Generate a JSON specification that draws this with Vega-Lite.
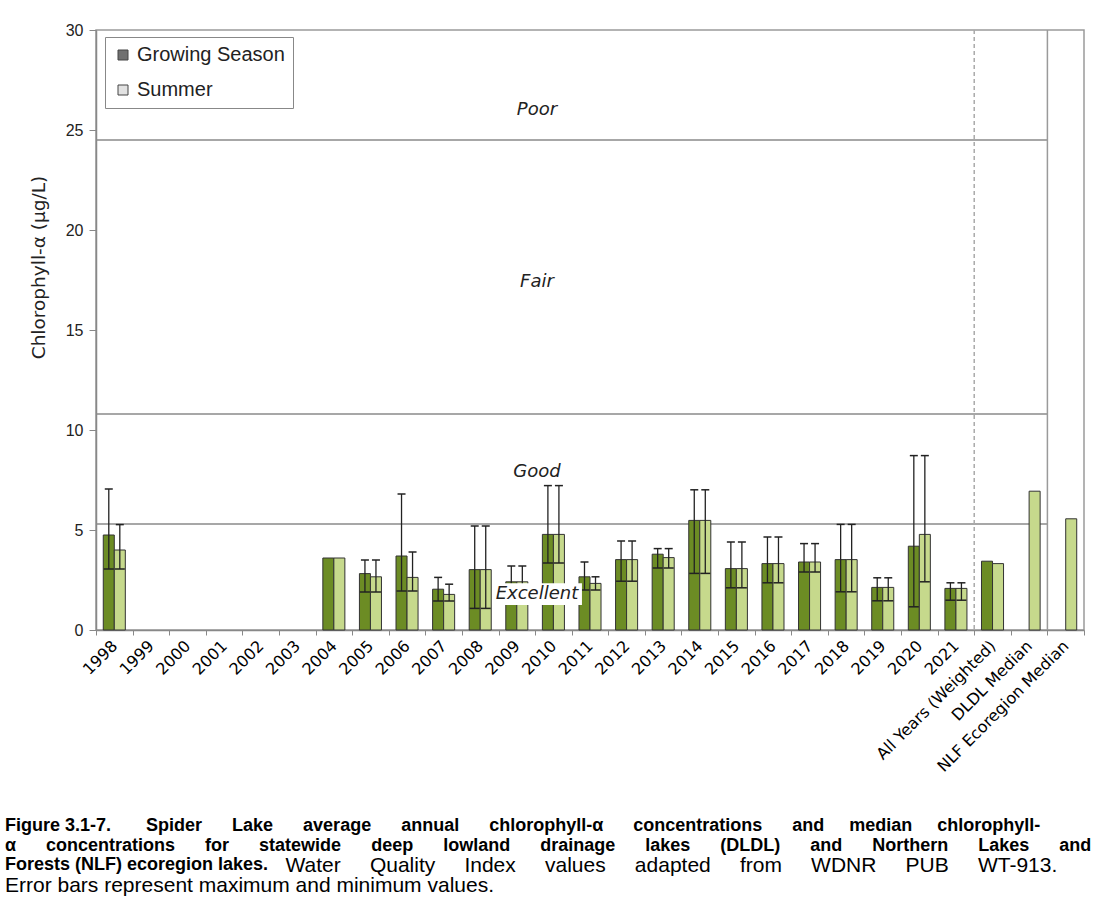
{
  "$schema": "https://vega.github.io/schema/vega-lite/v6.json",
  "width": 988,
  "height": 600,
  "autosize": {"type": "none"},
  "padding": {"left": 96, "top": 30, "right": 20, "bottom": 285},
  "background": "white",
  "config": {
    "font": "Liberation Sans",
    "view": {"stroke": "#9a9a9a", "strokeWidth": 1.5}
  },
  "title": {
    "text": [
      "Figure 3.1-7. \u00a0\u00a0\u00a0\u00a0\u00a0\u00a0Spider \u00a0\u00a0\u00a0\u00a0\u00a0Lake \u00a0\u00a0\u00a0\u00a0\u00a0average \u00a0\u00a0\u00a0\u00a0\u00a0annual \u00a0\u00a0\u00a0\u00a0\u00a0chlorophyll-α \u00a0\u00a0\u00a0\u00a0\u00a0concentrations \u00a0\u00a0\u00a0\u00a0\u00a0and \u00a0\u00a0\u00a0\u00a0median \u00a0\u00a0\u00a0\u00a0chlorophyll-",
      "α \u00a0\u00a0\u00a0\u00a0\u00a0concentrations \u00a0\u00a0\u00a0\u00a0\u00a0for \u00a0\u00a0\u00a0\u00a0\u00a0statewide \u00a0\u00a0\u00a0\u00a0\u00a0deep \u00a0\u00a0\u00a0\u00a0\u00a0lowland \u00a0\u00a0\u00a0\u00a0\u00a0drainage \u00a0\u00a0\u00a0\u00a0\u00a0lakes \u00a0\u00a0\u00a0\u00a0\u00a0(DLDL) \u00a0\u00a0\u00a0\u00a0\u00a0and \u00a0\u00a0\u00a0\u00a0\u00a0Northern \u00a0\u00a0\u00a0\u00a0\u00a0Lakes \u00a0\u00a0\u00a0\u00a0\u00a0and",
      "Forests (NLF) ecoregion lakes."
    ],
    "subtitle": "Error bars represent maximum and minimum values.",
    "orient": "bottom",
    "anchor": "start",
    "frame": "group",
    "dx": -91,
    "offset": -58,
    "font": "Liberation Sans",
    "fontSize": 18,
    "fontWeight": "bold",
    "lineHeight": 19.5,
    "color": "#000000",
    "subtitleFont": "Liberation Sans",
    "subtitleFontSize": 21,
    "subtitleFontWeight": "normal",
    "subtitleLineHeight": 20,
    "subtitleColor": "#000000",
    "subtitlePadding": 1
  },
  "datasets": {
    "bars": [
      {"cat": "1998", "series": "Growing Season", "mean": 4.75, "min": 3.05, "max": 7.05},
      {"cat": "1998", "series": "Summer", "mean": 4.0, "min": 3.05, "max": 5.27},
      {"cat": "2004", "series": "Growing Season", "mean": 3.6, "min": null, "max": null},
      {"cat": "2004", "series": "Summer", "mean": 3.6, "min": null, "max": null},
      {"cat": "2005", "series": "Growing Season", "mean": 2.82, "min": 1.9, "max": 3.5},
      {"cat": "2005", "series": "Summer", "mean": 2.66, "min": 1.9, "max": 3.5},
      {"cat": "2006", "series": "Growing Season", "mean": 3.7, "min": 1.95, "max": 6.8},
      {"cat": "2006", "series": "Summer", "mean": 2.63, "min": 1.95, "max": 3.9},
      {"cat": "2007", "series": "Growing Season", "mean": 2.04, "min": 1.45, "max": 2.63},
      {"cat": "2007", "series": "Summer", "mean": 1.78, "min": 1.45, "max": 2.29},
      {"cat": "2008", "series": "Growing Season", "mean": 3.02, "min": 1.08, "max": 5.2},
      {"cat": "2008", "series": "Summer", "mean": 3.02, "min": 1.08, "max": 5.2},
      {"cat": "2009", "series": "Growing Season", "mean": 2.41, "min": 1.6, "max": 3.2},
      {"cat": "2009", "series": "Summer", "mean": 2.41, "min": 1.6, "max": 3.2},
      {"cat": "2010", "series": "Growing Season", "mean": 4.78, "min": 3.35, "max": 7.22},
      {"cat": "2010", "series": "Summer", "mean": 4.78, "min": 3.35, "max": 7.22},
      {"cat": "2011", "series": "Growing Season", "mean": 2.66, "min": 2.0, "max": 3.4},
      {"cat": "2011", "series": "Summer", "mean": 2.33, "min": 2.0, "max": 2.66},
      {"cat": "2012", "series": "Growing Season", "mean": 3.52, "min": 2.44, "max": 4.45},
      {"cat": "2012", "series": "Summer", "mean": 3.52, "min": 2.44, "max": 4.45},
      {"cat": "2013", "series": "Growing Season", "mean": 3.79, "min": 3.1, "max": 4.07},
      {"cat": "2013", "series": "Summer", "mean": 3.62, "min": 3.1, "max": 4.07},
      {"cat": "2014", "series": "Growing Season", "mean": 5.48, "min": 2.83, "max": 7.01},
      {"cat": "2014", "series": "Summer", "mean": 5.48, "min": 2.83, "max": 7.01},
      {"cat": "2015", "series": "Growing Season", "mean": 3.07, "min": 2.11, "max": 4.4},
      {"cat": "2015", "series": "Summer", "mean": 3.07, "min": 2.11, "max": 4.4},
      {"cat": "2016", "series": "Growing Season", "mean": 3.32, "min": 2.36, "max": 4.65},
      {"cat": "2016", "series": "Summer", "mean": 3.32, "min": 2.36, "max": 4.65},
      {"cat": "2017", "series": "Growing Season", "mean": 3.4, "min": 2.9, "max": 4.32},
      {"cat": "2017", "series": "Summer", "mean": 3.4, "min": 2.9, "max": 4.32},
      {"cat": "2018", "series": "Growing Season", "mean": 3.52, "min": 1.91, "max": 5.28},
      {"cat": "2018", "series": "Summer", "mean": 3.52, "min": 1.91, "max": 5.28},
      {"cat": "2019", "series": "Growing Season", "mean": 2.13, "min": 1.46, "max": 2.61},
      {"cat": "2019", "series": "Summer", "mean": 2.13, "min": 1.46, "max": 2.61},
      {"cat": "2020", "series": "Growing Season", "mean": 4.19, "min": 1.16, "max": 8.72},
      {"cat": "2020", "series": "Summer", "mean": 4.78, "min": 2.41, "max": 8.72},
      {"cat": "2021", "series": "Growing Season", "mean": 2.08, "min": 1.49, "max": 2.36},
      {"cat": "2021", "series": "Summer", "mean": 2.08, "min": 1.49, "max": 2.36},
      {"cat": "All Years (Weighted)", "series": "Growing Season", "mean": 3.44, "min": null, "max": null},
      {"cat": "All Years (Weighted)", "series": "Summer", "mean": 3.32, "min": null, "max": null},
      {"cat": "DLDL Median", "series": "Summer", "mean": 6.94, "min": null, "max": null},
      {"cat": "NLF Ecoregion Median", "series": "Summer", "mean": 5.56, "min": null, "max": null}
    ],
    "thresholds": [{"v": 5.3}, {"v": 10.8}, {"v": 24.5}],
    "classes": [
      {"label": "Poor", "v": 26.0},
      {"label": "Fair", "v": 17.4},
      {"label": "Good", "v": 7.9},
      {"label": "Excellent", "v": 1.8}
    ]
  },
  "data": {"name": "bars"},
  "encoding": {
    "x": {
      "field": "cat",
      "type": "nominal",
      "sort": null,
      "scale": {
        "domain": ["1998", "1999", "2000", "2001", "2002", "2003", "2004", "2005", "2006", "2007", "2008", "2009", "2010", "2011", "2012", "2013", "2014", "2015", "2016", "2017", "2018", "2019", "2020", "2021", "All Years (Weighted)", "DLDL Median", "NLF Ecoregion Median"],
        "paddingInner": 0,
        "paddingOuter": 0
      },
      "axis": {
        "title": "Water \u00a0\u00a0\u00a0\u00a0Quality \u00a0\u00a0\u00a0\u00a0Index \u00a0\u00a0\u00a0\u00a0values \u00a0\u00a0\u00a0\u00a0adapted \u00a0\u00a0\u00a0\u00a0from \u00a0\u00a0\u00a0\u00a0WDNR \u00a0\u00a0\u00a0\u00a0PUB \u00a0\u00a0\u00a0\u00a0WT-913.",
        "titleFont": "Liberation Sans",
        "titleFontSize": 21,
        "titleFontWeight": "normal",
        "titleColor": "#000000",
        "titleAlign": "left",
        "titleAnchor": "start",
        "titleBaseline": "alphabetic",
        "titleX": 189,
        "titleY": 241,
        "labelAngle": -45,
        "labelAlign": "right",
        "labelBaseline": "middle",
        "labelFont": "DejaVu Sans",
        "labelFontSize": 16,
        "labelColor": "#000000",
        "labelPadding": 8,
        "tickBand": "extent",
        "tickSize": 5,
        "tickColor": "#888888",
        "domainColor": "#888888",
        "domainWidth": 1.5,
        "grid": false
      }
    }
  },
  "layer": [
    {
      "data": {"name": "thresholds"},
      "mark": {"type": "rule", "color": "#8a8a8a", "strokeWidth": 1.5},
      "encoding": {
        "x": {"datum": "1998", "type": "nominal", "bandPosition": 0},
        "x2": {"datum": "DLDL Median", "bandPosition": 1},
        "y": {
          "field": "v",
          "type": "quantitative",
          "scale": {"domain": [0, 30], "nice": false},
          "axis": {
            "title": "Chlorophyll-α (µg/L)",
            "titleFont": "DejaVu Sans",
            "titleFontSize": 18.5,
            "titleFontWeight": "normal",
            "titleColor": "#222222",
            "titleX": -48,
            "titleY": 237,
            "values": [0, 5, 10, 15, 20, 25, 30],
            "labelOverlap": false,
            "tickSize": 7,
            "tickColor": "#888888",
            "domainColor": "#888888",
            "domainWidth": 1.5,
            "labelFontSize": 16,
            "labelColor": "#222222",
            "labelPadding": 6,
            "grid": false
          }
        }
      }
    },
    {
      "data": {"values": [{"k": 1}]},
      "mark": {"type": "rule", "color": "#aaaaaa", "strokeWidth": 1.5, "strokeDash": [4, 3]},
      "encoding": {
        "x": {"datum": "All Years (Weighted)", "type": "nominal", "bandPosition": 0}
      }
    },
    {
      "data": {"values": [{"k": 1}]},
      "mark": {"type": "rule", "color": "#9a9a9a", "strokeWidth": 1.5},
      "encoding": {
        "x": {"datum": "NLF Ecoregion Median", "type": "nominal", "bandPosition": 0}
      }
    },
    {
      "mark": {"type": "bar", "stroke": "#333333", "strokeWidth": 1},
      "encoding": {
        "xOffset": {
          "field": "series",
          "type": "nominal",
          "scale": {"domain": ["Growing Season", "Summer"], "paddingInner": 0, "paddingOuter": 0.66}
        },
        "y": {"field": "mean", "type": "quantitative"},
        "color": {
          "condition": {"test": "datum.series === 'Growing Season'", "value": "#6c8c24"},
          "value": "#c6d98c"
        }
      }
    },
    {
      "data": {"values": [{"series": "Growing Season"}, {"series": "Summer"}]},
      "mark": {"type": "square", "size": 0, "filled": true},
      "encoding": {
        "x": {"datum": "1998", "type": "nominal"},
        "y": {"datum": 0, "type": "quantitative"},
        "color": {
          "field": "series",
          "type": "nominal",
          "scale": {"domain": ["Growing Season", "Summer"], "range": ["#707070", "#e2e2e2"]},
          "legend": {
            "title": null,
            "orient": "none",
            "legendX": 9,
            "legendY": 7,
            "direction": "vertical",
            "symbolType": "square",
            "symbolSize": 100,
            "symbolStrokeColor": "#444444",
            "symbolStrokeWidth": 1,
            "symbolOpacity": 1,
            "labelFontSize": 20,
            "labelColor": "#222222",
            "labelOffset": 4,
            "rowPadding": 15,
            "padding": 8,
            "strokeColor": "#888888",
            "fillColor": "#ffffff"
          }
        }
      }
    },
    {
      "transform": [{"filter": "isValid(datum.max)"}],
      "mark": {"type": "rule", "color": "#222222", "strokeWidth": 1.3},
      "encoding": {
        "xOffset": {"field": "series", "type": "nominal"},
        "y": {"field": "min", "type": "quantitative"},
        "y2": {"field": "max"}
      }
    },
    {
      "transform": [{"filter": "isValid(datum.max)"}],
      "mark": {"type": "tick", "orient": "horizontal", "size": 8, "thickness": 1.5, "color": "#222222", "opacity": 1},
      "encoding": {
        "xOffset": {"field": "series", "type": "nominal"},
        "y": {"field": "max", "type": "quantitative"}
      }
    },
    {
      "transform": [{"filter": "isValid(datum.min)"}],
      "mark": {"type": "tick", "orient": "horizontal", "size": 10, "thickness": 1.5, "color": "#222222", "opacity": 1},
      "encoding": {
        "xOffset": {"field": "series", "type": "nominal"},
        "y": {"field": "min", "type": "quantitative"}
      }
    },
    {
      "data": {"values": [{"k": 1}]},
      "mark": {"type": "rect", "color": "#ffffff", "opacity": 1},
      "encoding": {
        "x": {"datum": "2008", "type": "nominal", "bandPosition": 0.85},
        "x2": {"datum": "2011", "bandPosition": 0.28},
        "y": {"datum": 2.34, "type": "quantitative"},
        "y2": {"datum": 1.25}
      }
    },
    {
      "data": {"name": "classes"},
      "mark": {"type": "text", "font": "DejaVu Sans", "fontSize": 18, "fontStyle": "italic", "color": "#222222", "align": "center", "baseline": "middle"},
      "encoding": {
        "x": {"datum": "2010", "type": "nominal", "bandPosition": 0.05},
        "y": {"field": "v", "type": "quantitative"},
        "text": {"field": "label"}
      }
    }
  ]
}
